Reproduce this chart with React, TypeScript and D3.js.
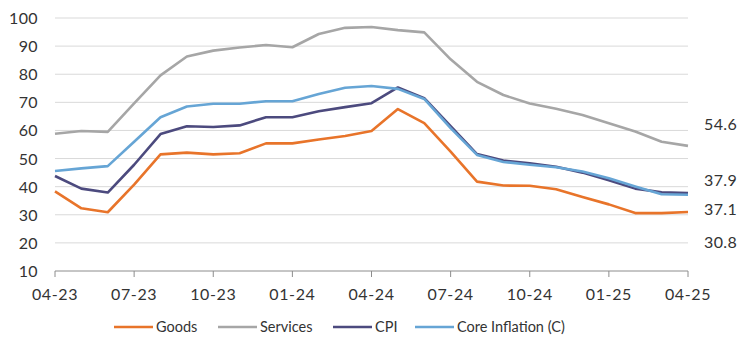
import React from "react";
import * as d3 from "d3";

const months = ["04-23","05-23","06-23","07-23","08-23","09-23","10-23","11-23","12-23","01-24","02-24","03-24","04-24","05-24","06-24","07-24","08-24","09-24","10-24","11-24","12-24","01-25","02-25","03-25","04-25"];
const tickLabels = ["04-23","07-23","10-23","01-24","04-24","07-24","10-24","01-25","04-25"];
const yTicks = [10,20,30,40,50,60,70,80,90,100];

const goods = [38.3,32.3,30.9,40.7,51.5,52.1,51.5,51.9,55.4,55.4,56.8,58.0,59.8,67.6,62.6,52.5,41.8,40.4,40.3,39.1,36.3,33.7,30.6,30.6,31.0];
const services = [58.8,59.8,59.5,69.6,79.6,86.3,88.4,89.5,90.4,89.6,94.3,96.5,96.8,95.7,94.9,85.3,77.3,72.6,69.6,67.7,65.5,62.6,59.6,56.0,54.5];
const cpi = [43.8,39.3,37.9,47.8,58.7,61.5,61.2,61.8,64.7,64.7,66.8,68.3,69.7,75.3,71.5,61.5,51.6,49.3,48.3,47.1,45.0,42.3,39.3,38.0,37.7];
const core = [45.6,46.5,47.3,56.0,64.7,68.5,69.5,69.5,70.4,70.4,73.0,75.2,75.8,74.8,71.2,60.8,51.3,48.8,47.8,46.9,45.4,43.0,40.1,37.3,37.1];
const endLabels = ["54.6","37.9","37.1","30.8"];
const endLabelVals = [62.3,42.4,32.2,20.3];

const seriesNames = ["Goods","Services","CPI","Core Inflation (C)"];
const seriesData = [goods, services, cpi, core];
const colors = ["#E8742A","#A6A6A6","#4C4A7E","#66A5D5"];
const drawOrder = [1,0,2,3];

export default function App() {
  const x = d3.scaleLinear().domain([0, months.length - 1]).range([55, 688]);
  const y = d3.scaleLinear().domain([10, 100]).range([271, 18]);
  const line = d3.line<number>().x((_, i) => x(i)).y((d) => y(d));
  const font = "Lato, 'Noto Sans', sans-serif";
  const legendX = [114, 218, 333, 415];
  const fs = 16;
  return (
    <svg width={745} height={353} style={{ position: "absolute", left: 0, top: 0, background: "#fff" }} fontFamily={font}>
      {yTicks.filter((t) => t > 10).map((t) => (
        <line key={t} x1={55} x2={688} y1={y(t)} y2={y(t)} stroke="#D9D9D9" strokeWidth={1} />
      ))}
      <line x1={55} x2={688} y1={y(10)} y2={y(10)} stroke="#8C8C8C" strokeWidth={1} />
      {tickLabels.map((l) => {
        const i = months.indexOf(l);
        return (
          <g key={l}>
            <line x1={x(i)} x2={x(i)} y1={y(10)} y2={y(10) + 6} stroke="#8C8C8C" />
            <text x={x(i)} y={y(10) + 29} textAnchor="middle" fontSize={fs} letterSpacing={0.6} fill="#333">{l}</text>
          </g>
        );
      })}
      {yTicks.map((t) => (
        <text key={t} x={38} y={y(t) + 6} textAnchor="end" fontSize={fs} letterSpacing={0.4} fill="#333">{t}</text>
      ))}
      {drawOrder.map((k) => (
        <path key={k} d={line(seriesData[k]) || ""} fill="none" stroke={colors[k]} strokeWidth={2.6} strokeLinejoin="round" />
      ))}
      {endLabels.map((l, i) => (
        <text key={l} x={704} y={y(endLabelVals[i]) + 6} fontSize={fs} letterSpacing={0.4} fill="#333">{l}</text>
      ))}
      {seriesNames.map((n, k) => (
        <g key={n}>
          <line x1={legendX[k]} x2={legendX[k] + 39} y1={327} y2={327} stroke={colors[k]} strokeWidth={2.6} />
          <text x={legendX[k] + 42} y={332} fontSize={14.5} fill="#333">{n}</text>
        </g>
      ))}
    </svg>
  );
}
